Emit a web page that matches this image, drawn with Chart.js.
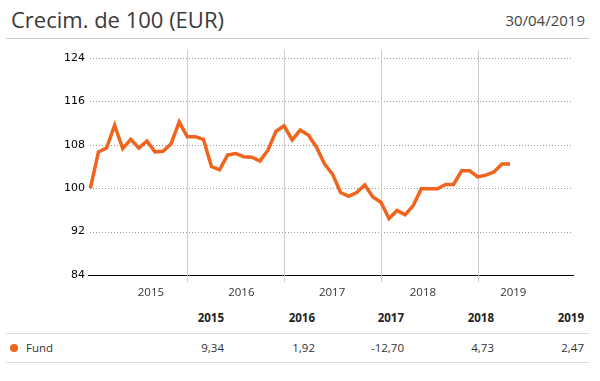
<!DOCTYPE html>
<html>
<head>
<meta charset="utf-8">
<script src="https://cdn.jsdelivr.net/npm/chart.js@4.4.1/dist/chart.umd.min.js"></script>
<style>
  html, body { margin: 0; padding: 0; background: #fff; }
  body { width: 600px; height: 381px; position: relative; overflow: hidden; font-family: "Open Sans", "Noto Sans", sans-serif; color: #333; }
  #title { position: absolute; left: 11px; top: 3px; font-size: 22px; color: #3a3a3a; line-height: 32px; white-space: nowrap; }
  #date { position: absolute; right: 15px; top: 9px; font-size: 15px; color: #444; line-height: 22px; }
  .hr { position: absolute; left: 6px; height: 1px; background: #cfcfcf; }
  #chartBox { position: absolute; left: 0; top: 40px; width: 600px; height: 265px; }
  .cell { position: absolute; width: 80px; text-align: right; font-size: 11.5px; line-height: 16px; white-space: nowrap; }
  .hdr { font-weight: bold; color: #222; }
  #dot { position: absolute; left: 10px; top: 344px; width: 8px; height: 8px; border-radius: 50%; background: #f0641e; }
  #fund { position: absolute; left: 26px; top: 340px; font-size: 11.5px; line-height: 16px; color: #333; }
</style>
</head>
<body>
<div id="title">Crecim. de 100 (EUR)</div>
<div id="date">30/04/2019</div>
<div class="hr" style="top:38px;width:584px;"></div>
<div id="chartBox"><canvas id="c" width="600" height="265"></canvas></div>
<div class="hr" style="top:333px;width:583px;background:#dcdcdc;"></div>
<div class="hr" style="top:362px;width:583px;background:#dcdcdc;"></div>
<div id="dot"></div>
<div id="fund">Fund</div>
<div id="table"></div>
<script>
// Monthly growth of 100, from 31/12/2014 (index 0) to 30/04/2019 (index 52)
const fundValues = [100, 106.7, 107.4, 111.6, 107.3, 109.0, 107.4, 108.7, 106.7, 106.8, 108.2, 112.2,
  109.5, 109.5, 109.0, 104.0, 103.4, 106.1, 106.4, 105.8, 105.7, 105.0, 107.0, 110.5,
  111.5, 108.9, 110.7, 109.8, 107.6, 104.5, 102.6, 99.2, 98.5, 99.2, 100.6, 98.4,
  97.4, 94.4, 95.9, 95.1, 96.8, 99.9, 99.9, 99.9, 100.7, 100.7, 103.2, 103.2,
  102.1, 102.4, 103.0, 104.45, 104.45];
const yearLabels = ['2015', '2016', '2017', '2018', '2019'];
const yearLabelMonths = [7.5, 18.7, 29.95, 41.2, 52.4];   // axis values (months) where year labels sit
const yearBoundaryMonths = [12, 24, 36, 48];               // 31 Dec of each year
const yTicks = [84, 92, 100, 108, 116, 124];
const tableYears = ['2015', '2016', '2017', '2018', '2019'];
const fundReturns = ['9,34', '1,92', '-12,70', '4,73', '2,47'];

// table
const tableRight = [224, 315, 404, 494, 584];
const tbl = document.getElementById('table');
tableYears.forEach((y, i) => {
  const h = document.createElement('div');
  h.className = 'cell hdr';
  h.style.left = (tableRight[i] - 80) + 'px';
  h.style.top = '310px';
  h.textContent = y;
  tbl.appendChild(h);
  const v = document.createElement('div');
  v.className = 'cell';
  v.style.left = (tableRight[i] - 80) + 'px';
  v.style.top = '340px';
  v.textContent = fundReturns[i];
  tbl.appendChild(v);
});

const gridLines = {
  id: 'gridLines',
  beforeDatasetsDraw(chart) {
    const { ctx, chartArea, scales } = chart;
    ctx.save();
    // dotted horizontal lines
    ctx.strokeStyle = '#999999';
    ctx.lineWidth = 1;
    ctx.setLineDash([1, 2]);
    yTicks.forEach(v => {
      if (v === scales.y.min) return;
      const y = Math.round(scales.y.getPixelForValue(v)) + 0.5;
      ctx.beginPath();
      ctx.moveTo(chartArea.left + 2, y);
      ctx.lineTo(chartArea.right, y);
      ctx.stroke();
    });
    // year boundary lines
    ctx.setLineDash([]);
    ctx.strokeStyle = '#cccccc';
    yearBoundaryMonths.forEach(m => {
      const x = Math.round(scales.x.getPixelForValue(m)) + 0.5;
      ctx.beginPath();
      ctx.moveTo(x, chartArea.top - 8);
      ctx.lineTo(x, chartArea.bottom + 7);
      ctx.stroke();
    });
    ctx.restore();
  }
};

new Chart(document.getElementById('c'), {
  type: 'line',
  data: {
    datasets: [{
      label: 'Fund',
      data: fundValues.map((v, i) => ({ x: i, y: v })),
      borderColor: '#f0641e',
      borderWidth: 3.5,
      pointRadius: 0,
      tension: 0,
      fill: false
    }]
  },
  options: {
    responsive: false,
    animation: false,
    events: [],
    layout: { padding: { top: 18, left: 0, right: 27, bottom: 0 } },
    plugins: { legend: { display: false }, tooltip: { enabled: false } },
    scales: {
      x: {
        type: 'linear',
        min: -0.3,
        max: 59.8,
        grid: { display: false, drawTicks: false },
        border: { display: true, color: '#000', width: 1 },
        afterBuildTicks: s => { s.ticks = yearLabelMonths.map(v => ({ value: v })); },
        afterFit: s => { s.height = 30; },
        ticks: {
          autoSkip: false,
          maxRotation: 0,
          padding: 11,
          color: '#333',
          font: { family: '"Open Sans", sans-serif', size: 11.5 },
          callback: (v, i) => yearLabels[i]
        }
      },
      y: {
        min: 84,
        max: 124,
        afterBuildTicks: s => { s.ticks = yTicks.map(v => ({ value: v })); },
        afterFit: s => { s.width = 88; },
        grid: { display: false, drawTicks: false },
        border: { display: false },
        ticks: {
          padding: 3,
          color: '#000',
          font: { family: '"DejaVu Sans", Verdana, sans-serif', size: 11 }
        }
      }
    }
  },
  plugins: [gridLines]
});
</script>
</body>
</html>
